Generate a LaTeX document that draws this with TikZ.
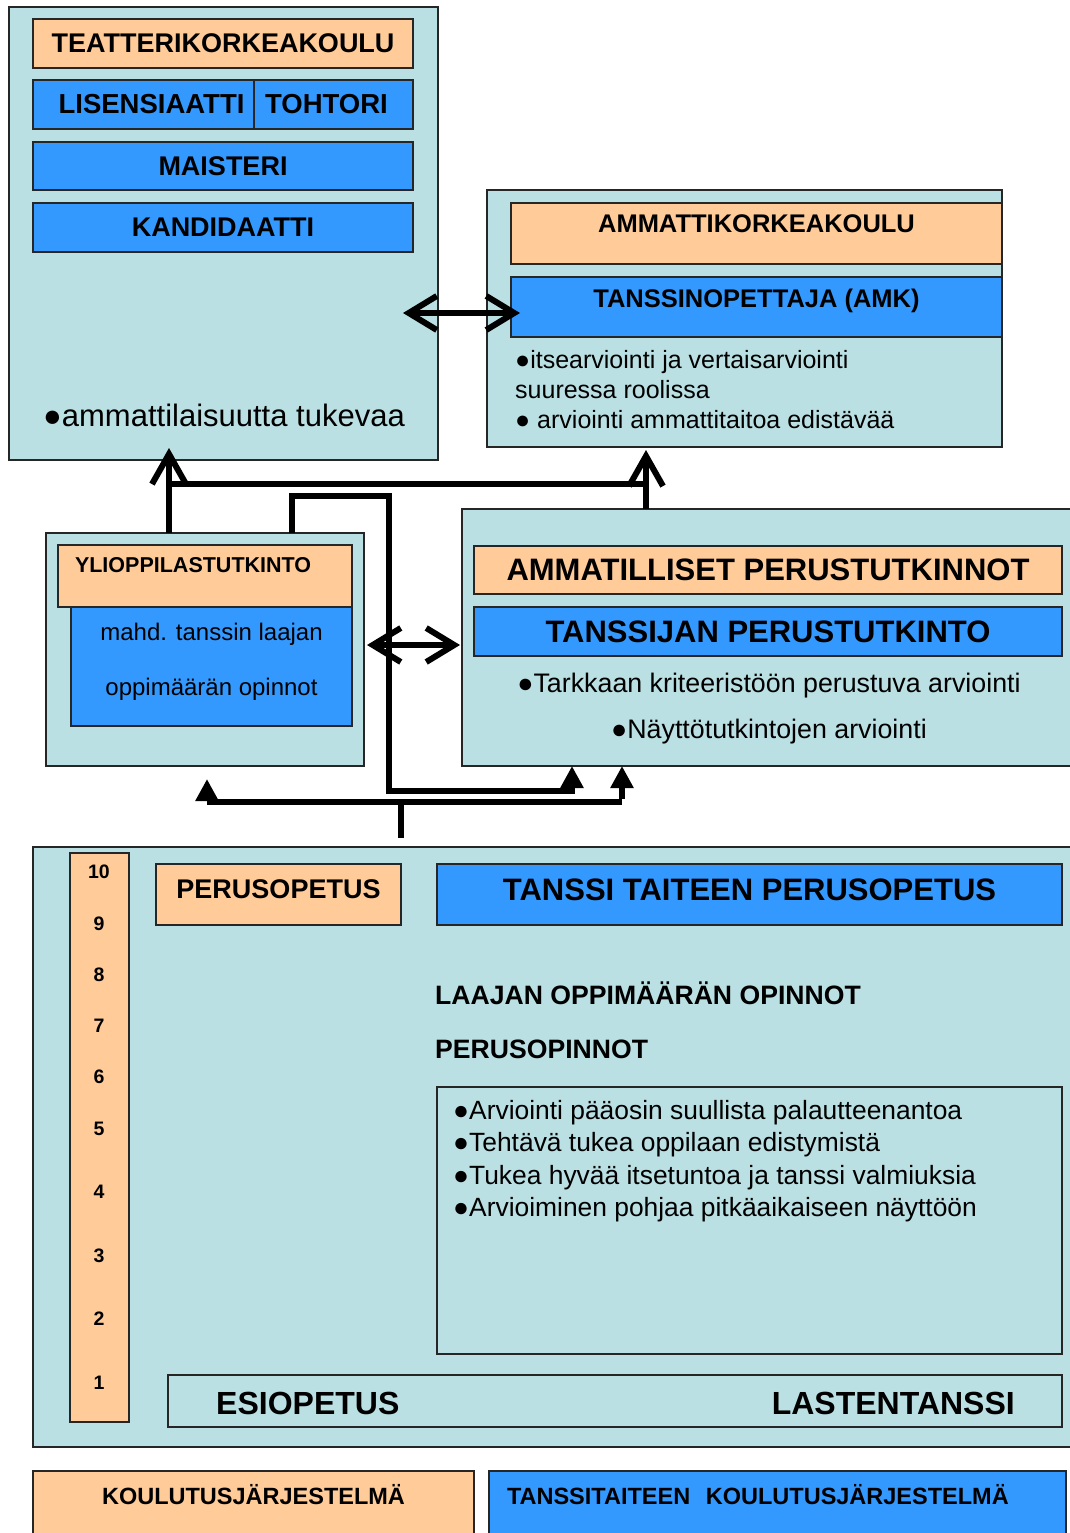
\documentclass[tikz,border=0pt]{standalone}
\usepackage{fontspec}
\setmainfont{Liberation Sans}
\usetikzlibrary{arrows.meta, calc}

\definecolor{paleblue}{HTML}{BAE0E3}
\definecolor{peach}{HTML}{FFCC99}
\definecolor{brightblue}{HTML}{3399FF}

\tikzset{
    panel/.style={draw=black!85, line width=1.5pt, fill=paleblue, anchor=north west, inner sep=0pt, outer sep=0pt},
    peachbox/.style={panel, fill=peach},
    bluebox/.style={panel, fill=brightblue},
    caps/.style={font=\bfseries\fontsize{#1}{#1}\selectfont},
    plain/.style={font=\fontsize{#1}{#1}\selectfont, inner sep=0pt},
    link/.style={line width=6pt},
    openhead/.style={-{Straight Barb[length=30pt, width=34pt]}},
    twoway/.style={{Straight Barb[length=28pt, width=34pt]}-{Straight Barb[length=28pt, width=34pt]}},
    fullhead/.style={-{Triangle[length=22pt, width=22pt]}}
}

\begin{document}
\begin{tikzpicture}[x=1pt, y=-1pt]
    \clip (0,0) rectangle (1070,1533);

    % teatterikorkeakoulu
    \node[panel, minimum width=429, minimum height=453] (tkpanel) at (9,7) {};
    \node[peachbox, caps=27, minimum width=380, minimum height=49] (tk) at (33,19) {TEATTERIKORKEAKOULU};
    \node[bluebox, caps=27.5, minimum width=221, minimum height=49] (lis) at (33,80) {\hspace*{16pt}LISENSIAATTI};
    \node[bluebox, caps=27.5, minimum width=159, minimum height=49] (toh) at (lis.north east) {TOHTORI\hspace*{14pt}};
    \node[bluebox, caps=27, minimum width=380, minimum height=48] (mai) at (33,142) {MAISTERI};
    \node[bluebox, caps=27, minimum width=380, minimum height=49] (kan) at (33,203) {KANDIDAATTI};
    \node[plain=31] (tkbul) at (224,415) {●ammattilaisuutta tukevaa};

    % ammattikorkeakoulu
    \node[panel, minimum width=515, minimum height=257] (amkpanel) at (487,190) {};
    \node[peachbox, caps=25.5, minimum width=491, minimum height=61, text depth=19pt] (amk) at (511,203) {AMMATTIKORKEAKOULU};
    \node[bluebox, caps=25.5, minimum width=491, minimum height=60, text depth=18pt] (amkt) at (511,277) {TANSSINOPETTAJA (AMK)};
    \node[plain=25, anchor=base west] (amkb1) at (515,368) {●itsearviointi ja vertaisarviointi};
    \node[plain=25, anchor=base west] (amkb2) at (515,398) {suuressa roolissa};
    \node[plain=25, anchor=base west] (amkb3) at (515,428) {● arviointi ammattitaitoa edistävää};

    % ylioppilastutkinto
    \node[panel, minimum width=318, minimum height=233] (yliopanel) at (46,533) {};
    \node[peachbox, caps=21.5, minimum width=294, minimum height=62, text width=260pt, align=left, text depth=22pt] (ylio) at (58,545) {YLIOPPILASTUTKINTO};
    \node[bluebox, font=\fontsize{24}{55}\selectfont, minimum width=281, minimum height=119, align=center, text depth=15pt] (yliob) at (71,607) {mahd. tanssin laajan\\oppimäärän opinnot};

    % ammatilliset perustutkinnot
    \node[panel, minimum width=620, minimum height=257] (ampanel) at (462,509) {};
    \node[peachbox, caps=31, minimum width=588, minimum height=48] (amp) at (474,546) {AMMATILLISET PERUSTUTKINNOT};
    \node[bluebox, caps=31, minimum width=588, minimum height=49] (tpt) at (474,607) {TANSSIJAN PERUSTUTKINTO};
    \node[plain=26.8] (ampb1) at (769,686) {●Tarkkaan kriteeristöön perustuva arviointi};
    \node[plain=26.8] (ampb2) at (769,732) {●Näyttötutkintojen arviointi};

    % perusopetus
    \node[panel, minimum width=1050, minimum height=600] (bpanel) at (33,847) {};
    \node[peachbox, minimum width=59, minimum height=569] (grades) at (70,853) {};
    \foreach \n/\y in {10/872, 9/924, 8/975, 7/1026, 6/1077, 5/1129, 4/1192, 3/1256, 2/1319, 1/1383}
        \node[caps=19.5] (g\n) at (99,\y) {\n};
    \node[peachbox, caps=27, minimum width=245, minimum height=61, text depth=11pt] (po) at (156,864) {PERUSOPETUS};
    \node[bluebox, caps=31, minimum width=625, minimum height=61, text depth=10pt] (ttp) at (437,864) {TANSSI TAITEEN PERUSOPETUS};
    \node[caps=26.6, anchor=west, inner sep=0pt] (laaja) at (435,993) {LAAJAN OPPIMÄÄRÄN OPINNOT};
    \node[caps=26.6, anchor=west, inner sep=0pt] (perus) at (435,1049) {PERUSOPINNOT};
    \node[panel, fill=none, minimum width=625, minimum height=267] (evalbox) at (437,1087) {};
    \node[plain=26.4, anchor=west] (ev1) at (453,1113) {●Arviointi pääosin suullista palautteenantoa};
    \node[plain=26.4, anchor=west] (ev2) at (453,1145) {●Tehtävä tukea oppilaan edistymistä};
    \node[plain=26.4, anchor=west] (ev3) at (453,1178) {●Tukea hyvää itsetuntoa ja tanssi valmiuksia};
    \node[plain=26.4, anchor=west] (ev4) at (453,1210) {●Arvioiminen pohjaa pitkäaikaiseen näyttöön};
    \node[panel, fill=none, minimum width=894, minimum height=52] (esi) at (168,1375) {};
    \node[caps=32, anchor=west, inner sep=0pt] (esit) at (216,1403) {ESIOPETUS};
    \node[caps=32, anchor=east, inner sep=0pt] (last) at (1015,1403) {LASTENTANSSI};

    % selitteet
    \node[peachbox, caps=23.5, minimum width=441, minimum height=80, text depth=34pt] (kj) at (33,1471) {KOULUTUSJÄRJESTELMÄ};
    \node[bluebox, caps=23.5, minimum width=577, minimum height=80, text width=541pt, align=left, text depth=34pt] (tkj) at (489,1471) {TANSSITAITEEN\ \ KOULUTUSJÄRJESTELMÄ};

    % yhteydet
    \coordinate (j1) at (169,484);
    \coordinate (j2) at (646,484);
    \draw[link] (j1) -- (j2);
    \draw[link, openhead] (j1 |- yliopanel.north) -- ([yshift=12]j1 |- tkpanel.south);
    \draw[link, openhead] (j2 |- ampanel.north) -- ([yshift=-3]j2 |- amkpanel.south);
    \draw[link, twoway] ([xshift=-35,yshift=-6]tkpanel.east |- amkt.west) -- ([xshift=9,yshift=-6]amkt.west);
    \draw[link, twoway] ([xshift=3]yliopanel.east |- 0,645) -- ([xshift=-2]ampanel.west |- 0,645);

    \coordinate (r1) at (292,496);
    \coordinate (r2) at (389,496);
    \coordinate (r3) at (389,791);
    \coordinate (r4) at (572,791);
    \draw[link, fullhead] (r1 |- yliopanel.north) -- (r1) -- (r2) -- (r3) -- (r4) -- (r4 |- ampanel.south);

    \coordinate (b0) at (401,802);
    \coordinate (bl) at (207,802);
    \coordinate (br) at (622,802);
    \draw[link] ([yshift=9]b0 |- bpanel.north) -- (b0);
    \draw[link] (bl) -- (br);
    \draw[link, fullhead] ([yshift=3]bl) -- ([yshift=23]bl);
    \draw[link, fullhead] ([yshift=3]br) -- (br |- ampanel.south);
\end{tikzpicture}
\end{document}
